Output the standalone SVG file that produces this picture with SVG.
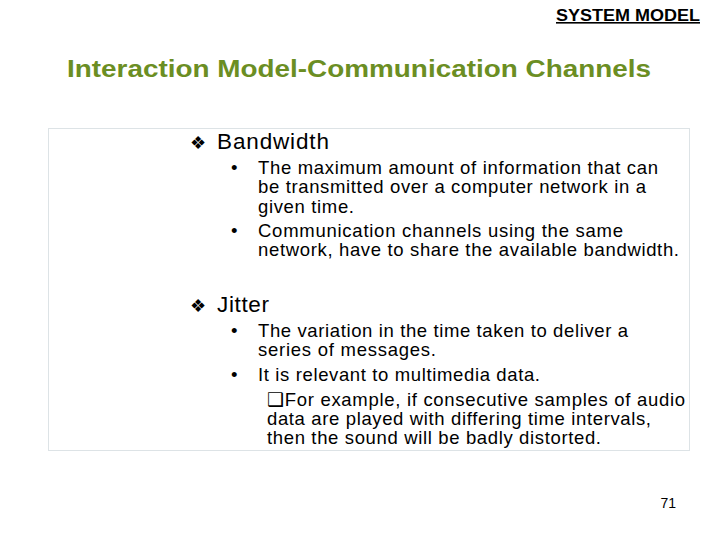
<svg xmlns="http://www.w3.org/2000/svg" width="720" height="540" viewBox="0 0 720 540">
<style>
text{font-family:"Liberation Sans",Arial,sans-serif;fill:#000}
.b{font-size:18.5px}
.h{font-size:22.5px}
.d{font-size:18px}
</style>
<rect width="720" height="540" fill="#fff"/>
<g id="header">
<text x="556" y="21" font-size="16" font-weight="bold" text-decoration="underline" textLength="144" lengthAdjust="spacingAndGlyphs">SYSTEM MODEL</text>
</g>
<g id="title">
<text x="67" y="77" font-size="23" font-weight="bold" style="fill:#6b8e23" textLength="584" lengthAdjust="spacingAndGlyphs">Interaction Model-Communication Channels</text>
</g>
<g id="content">
<rect x="48.5" y="128.5" width="641" height="322" fill="none" stroke="#dde3e6" stroke-width="1"/>
<text class="d" x="190" y="149">❖</text>
<text class="h" x="217" y="149" textLength="112" lengthAdjust="spacing">Bandwidth</text>
<text class="b" x="231" y="174">•</text>
<text class="b" x="258" y="174" textLength="400" lengthAdjust="spacing">The maximum amount of information that can</text>
<text class="b" x="258" y="193" textLength="388" lengthAdjust="spacing">be transmitted over a computer network in a</text>
<text class="b" x="258" y="213" textLength="96" lengthAdjust="spacing">given time.</text>
<text class="b" x="231" y="237">•</text>
<text class="b" x="258" y="237" textLength="365" lengthAdjust="spacing">Communication channels using the same</text>
<text class="b" x="258" y="256" textLength="421" lengthAdjust="spacing">network, have to share the available bandwidth.</text>
<text class="d" x="190" y="312">❖</text>
<text class="h" x="217" y="312" textLength="52" lengthAdjust="spacing">Jitter</text>
<text class="b" x="231" y="337">•</text>
<text class="b" x="258" y="337" textLength="370" lengthAdjust="spacing">The variation in the time taken to deliver a</text>
<text class="b" x="258" y="356" textLength="178" lengthAdjust="spacing">series of messages.</text>
<text class="b" x="231" y="381">•</text>
<text class="b" x="258" y="381" textLength="282" lengthAdjust="spacing">It is relevant to multimedia data.</text>
<text class="b" x="267" y="406" textLength="418" lengthAdjust="spacing">❑For example, if consecutive samples of audio</text>
<text class="b" x="267" y="425" textLength="384" lengthAdjust="spacing">data are played with differing time intervals,</text>
<text class="b" x="267" y="444" textLength="334" lengthAdjust="spacing">then the sound will be badly distorted.</text>
</g>
<g id="page">
<text x="676" y="508" font-size="14" text-anchor="end">71</text>
</g>
</svg>
